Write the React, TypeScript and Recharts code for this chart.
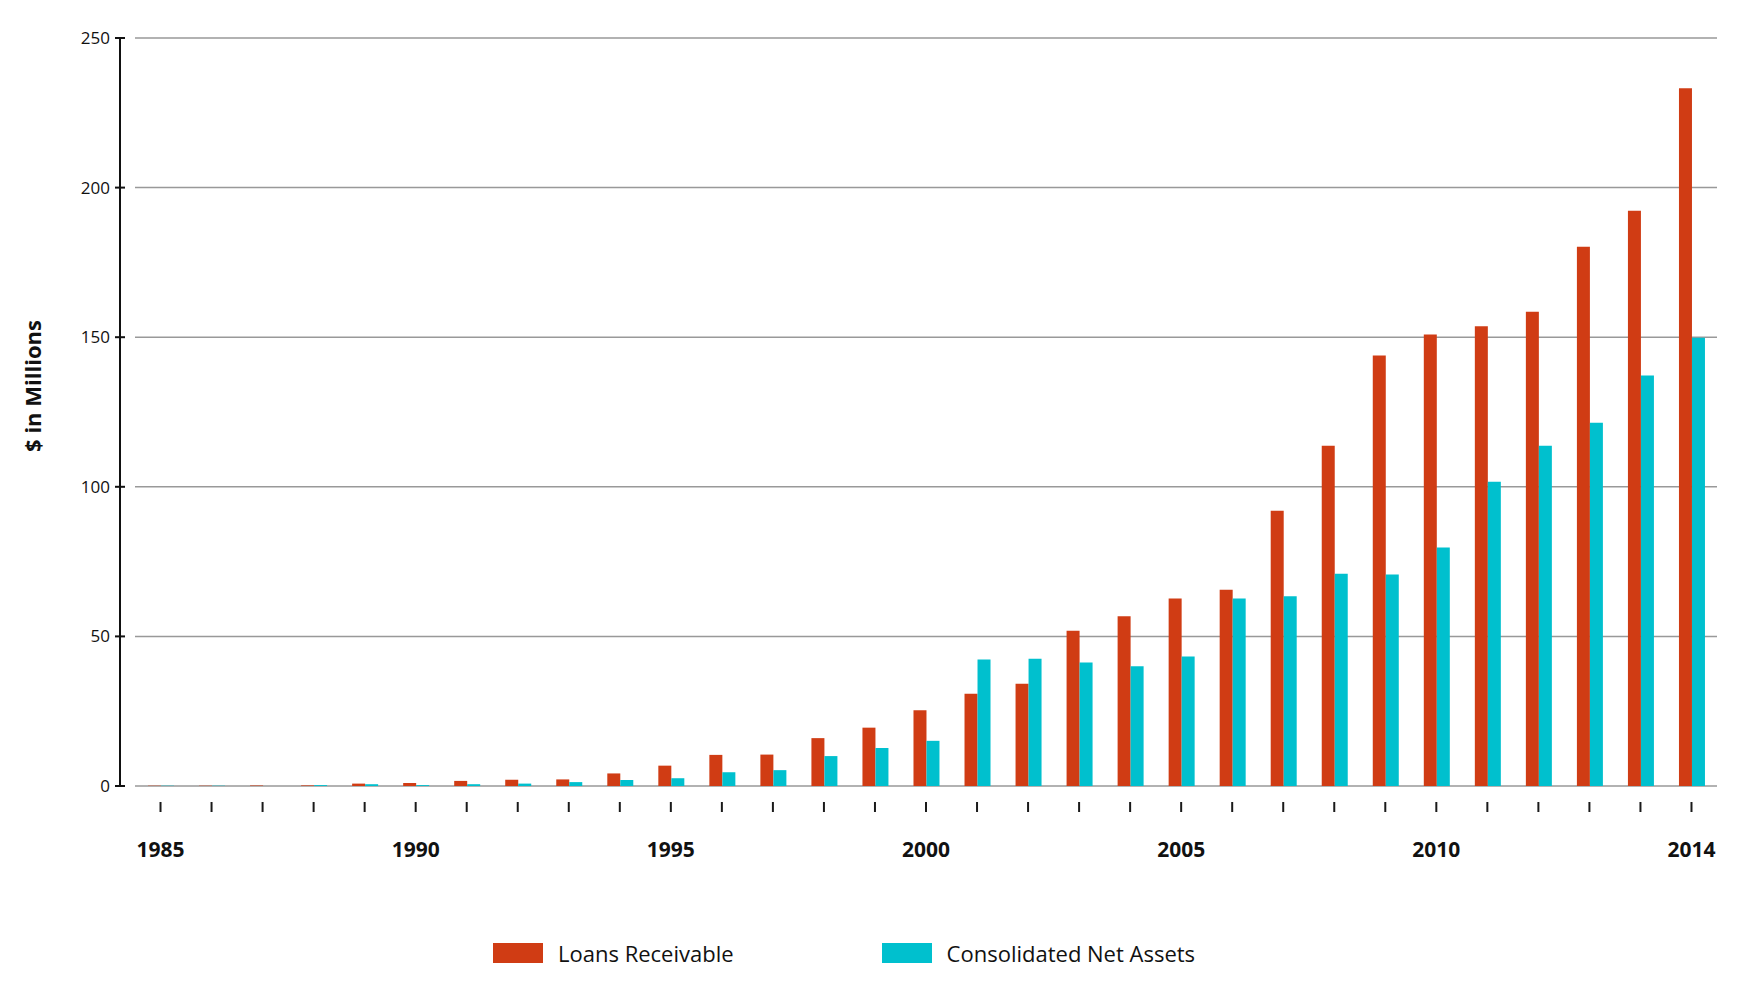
import { BarChart, Bar, XAxis, YAxis, CartesianGrid, Legend } from "recharts";

// one category per year; the source chart has 31 groups and labels every fifth one
const years = [
  "1985", "1986", "1987", "1988", "1989", "1990", "1991", "1992", "1993", "1994",
  "1995", "1996", "1997", "1998", "1999", "2000", "2001", "2002", "2003", "2004",
  "2005", "2006", "2007", "2008", "2009", "2010", "2011", "2012", "2013", "2014",
  "2015",
];

const loansReceivable = [
  0.1, 0.1, 0.2, 0.2, 0.8, 1.0, 1.7, 2.1, 2.2, 4.2,
  6.8, 10.4, 10.5, 16.0, 19.5, 25.3, 30.8, 34.2, 51.9, 56.7,
  62.7, 65.6, 92.0, 113.7, 143.9, 150.9, 153.7, 158.5, 180.2, 192.3,
  233.2,
];

const consolidatedNetAssets = [
  0.1, 0.1, 0.0, 0.3, 0.6, 0.3, 0.6, 0.8, 1.3, 2.0,
  2.6, 4.6, 5.3, 10.0, 12.7, 15.1, 42.3, 42.5, 41.3, 40.0,
  43.3, 62.7, 63.4, 70.9, 70.7, 79.7, 101.7, 113.7, 121.4, 137.2,
  149.8,
];

// labels printed under every fifth tick (as in the original)
const xTickLabels = ["1985", "1990", "1995", "2000", "2005", "2010", "2014"];
const yTicks = [0, 50, 100, 150, 200, 250];
const seriesNames = ["Loans Receivable", "Consolidated Net Assets"];

const data = years.map((year, i) => ({
  year,
  loans: loansReceivable[i],
  net: consolidatedNetAssets[i],
}));

const RED = "#D03C14";
const CYAN = "#00C0CE";
const FONT = "'Open Sans', sans-serif";

const XTick = (props: any) => {
  const { x, y, index } = props;
  const label = index % 5 === 0 ? xTickLabels[index / 5] : null;
  return (
    <g>
      <line x1={x} x2={x} y1={y + 16} y2={y + 26} stroke="#1a1a1a" strokeWidth={2} />
      {label && (
        <text x={x} y={y + 71} textAnchor="middle" fontFamily={FONT} fontWeight={700} fontSize={21} fill="#111">
          {label}
        </text>
      )}
    </g>
  );
};

const YTick = (props: any) => {
  const { x, y, payload } = props;
  return (
    <g>
      <line x1={x - 5} x2={x + 5} y1={y} y2={y} stroke="#111" strokeWidth={2} />
      <text x={x - 10} y={y + 6} textAnchor="end" fontFamily={FONT} fontSize={17} fill="#111">
        {payload.value}
      </text>
    </g>
  );
};

const gridLine = (props: any) => {
  const { x1, y1, x2, y2, index } = props;
  return <line key={`grid-${index}-${y1}`} x1={x1 + 15} y1={y1} x2={x2} y2={y2} stroke="#999" strokeWidth={1.5} />;
};

const YLabel = (props: any) => {
  const { viewBox } = props;
  const cx = viewBox.x + 32;
  const cy = viewBox.y + viewBox.height / 2 - 26;
  return (
    <text
      x={cx}
      y={cy}
      transform={`rotate(-90, ${cx}, ${cy})`}
      textAnchor="middle"
      dominantBaseline="central"
      fontFamily={FONT}
      fontWeight={700}
      fontSize={22}
      fill="#111"
    >
      $ in Millions
    </text>
  );
};

const LegendContent = (props: any) => {
  const items = [...(props.payload || [])].sort(
    (a: any, b: any) => seriesNames.indexOf(a.value) - seriesNames.indexOf(b.value)
  );
  return (
    <div style={{ display: "flex", alignItems: "center", height: 40, gap: 148 }}>
      {items.map((entry: any) => (
        <div key={entry.value} style={{ display: "flex", alignItems: "center" }}>
          <div style={{ width: 50, height: 20, background: entry.color, marginRight: 15 }} />
          <span style={{ fontFamily: FONT, fontSize: 22, color: "#111", whiteSpace: "nowrap" }}>{entry.value}</span>
        </div>
      ))}
    </div>
  );
};

export default function App() {
  return (
    <div style={{ width: 1750, height: 1007, background: "#fff" }}>
      <style>{"body{margin:0;background:#fff}"}</style>
      <BarChart
        width={1750}
        height={1007}
        data={data}
        margin={{ top: 38, right: 33, left: 0, bottom: 61 }}
        barGap={0}
        barSize={13}
        style={{ fontFamily: FONT }}
      >
        <CartesianGrid vertical={false} horizontal={gridLine} />
        <XAxis
          dataKey="year"
          interval={0}
          height={120}
          padding={{ left: 15, right: 0 }}
          axisLine={false}
          tickLine={false}
          tickSize={0}
          tickMargin={0}
          tick={<XTick />}
        />
        <YAxis
          width={120}
          domain={[0, 250]}
          ticks={yTicks}
          interval={0}
          axisLine={{ stroke: "#111", strokeWidth: 2 }}
          tickLine={false}
          tickSize={0}
          tickMargin={0}
          tick={<YTick />}
          label={<YLabel />}
        />
        <Legend
          verticalAlign="bottom"
          height={40}
          content={<LegendContent />}
          wrapperStyle={{ left: 493, top: 933, width: "auto", bottom: "auto" }}
        />
        <Bar dataKey="loans" name={seriesNames[0]} fill={RED} isAnimationActive={false} />
        <Bar dataKey="net" name={seriesNames[1]} fill={CYAN} isAnimationActive={false} />
      </BarChart>
    </div>
  );
}
